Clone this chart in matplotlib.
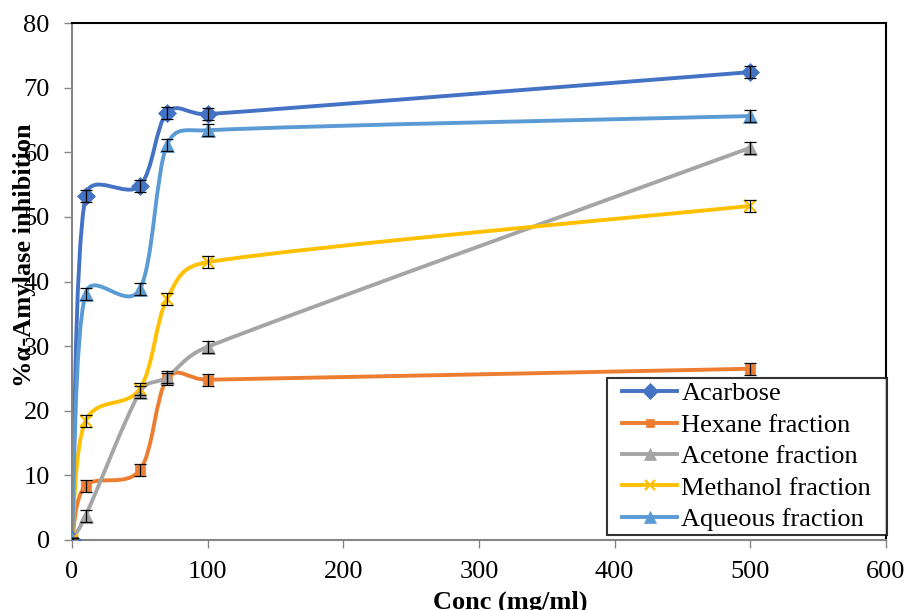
import numpy as np
import matplotlib
matplotlib.use("Agg")
import matplotlib.pyplot as plt
from matplotlib.path import Path
from matplotlib.patches import PathPatch
from matplotlib.lines import Line2D

plt.rcParams['font.family'] = ['Liberation Serif', 'DejaVu Serif']

# data
conc = [0, 10, 50, 70, 100, 500]
acarbose = [0, 53.2, 54.8, 66.1, 65.9, 72.4]
hexane = [0, 8.4, 10.8, 24.9, 24.8, 26.5]
acetone = [0, 3.7, 22.9, 25.2, 29.9, 60.7]
methanol = [0, 18.4, 23.4, 37.3, 43.0, 51.7]
aqueous = [0, 38.1, 38.8, 61.1, 63.4, 65.6]
err = [0.3, 0.9, 0.9, 0.9, 0.9, 0.9]

names = ['Acarbose', 'Hexane fraction', 'Acetone fraction', 'Methanol fraction', 'Aqueous fraction']
series = [acarbose, hexane, acetone, methanol, aqueous]
colors = ['#4472C4', '#ED7D31', '#A5A5A5', '#FFC000', '#5B9BD5']
markers = ['D', 's', '^', 'x', '^']
msizes = [9.5, 7, 10, 9, 10]

fig = plt.figure(figsize=(9.07, 6.10), dpi=100)
ax = fig.add_axes([72/907, 1-540/610, (886-72)/907, (540-23)/610])
ax.set_xlim(0, 600)
ax.set_ylim(0, 80)


def smooth_path(xs, ys):
    # excel-like smoothed line: cubic bezier in display space
    pts = ax.transData.transform(np.column_stack([xs, ys]))
    n = len(pts)
    verts = [pts[0]]
    codes = [Path.MOVETO]
    for i in range(n - 1):
        p1, p2 = pts[i], pts[i + 1]
        p0 = pts[i - 1] if i > 0 else p1
        p3 = pts[i + 2] if i + 2 < n else p2
        d12 = np.hypot(*(p2 - p1))
        d02 = np.hypot(*(p2 - p0))
        d13 = np.hypot(*(p3 - p1))
        f1 = 1/6 if d02/6 < d12/2 else d12/(2*d02)
        f2 = 1/6 if d13/6 < d12/2 else d12/(2*d13)
        c1 = p1 + f1*(p2 - p0)
        c2 = p2 - f2*(p3 - p1)
        verts += [c1, c2, p2]
        codes += [Path.CURVE4]*3
    verts = ax.transData.inverted().transform(np.array(verts))
    return Path(verts, codes)


handles = []
for name, ys, c, m, ms in zip(names, series, colors, markers, msizes):
    ax.add_patch(PathPatch(smooth_path(conc, ys), fill=False, edgecolor=c, lw=2.8,
                           capstyle='round', zorder=2))
    mew = 1.6 if m == 'x' else 0.5
    ax.plot(conc, ys, linestyle='none', marker=m, ms=ms, color=c, mec=c, mew=mew, zorder=3)
    ax.errorbar(conc, ys, yerr=err, fmt='none', ecolor='black', elinewidth=0.9,
                capsize=4.3, capthick=0.9, zorder=4)
    handles.append(Line2D([], [], color=c, lw=2.8, marker=m, ms=ms*0.85, mec=c, mew=mew))

ax.set_xticks(range(0, 601, 100))
ax.set_yticks(range(0, 81, 10))
ax.tick_params(axis='both', labelsize=19, direction='out', length=6, width=1,
               color='#868686')
ax.tick_params(axis='x', pad=9)
ax.tick_params(axis='y', pad=10)
for s in ['left', 'bottom']:
    ax.spines[s].set_color('#868686')
    ax.spines[s].set_linewidth(1.5)
for s in ['top', 'right']:
    ax.spines[s].set_color('black')
    ax.spines[s].set_linewidth(1.5)

leg = ax.legend(handles, names, loc='lower right', bbox_to_anchor=(0.9865, 0.0097),
                borderaxespad=0, fontsize=19, frameon=True, fancybox=False,
                handlelength=2.08, handletextpad=0.15, labelspacing=0.3, borderpad=0.15)
frame = leg.get_frame()
frame.set_edgecolor('black')
frame.set_linewidth(1.5)
# wider side padding than top/bottom, like the excel legend box
frame.set_boxstyle('square', pad=0.45)
frame.set_mutation_aspect(0.01)
leg.set_zorder(5)

fig.text(25/907, 1-255/610, '%α-Amylase inhibition', rotation=90, ha='center', va='center',
         fontsize=19, fontweight='bold')
fig.text(510/907, 1/610, 'Conc (mg/ml)', ha='center', va='baseline',
         fontsize=19, fontweight='bold')

fig.savefig('out.png', dpi=100)
